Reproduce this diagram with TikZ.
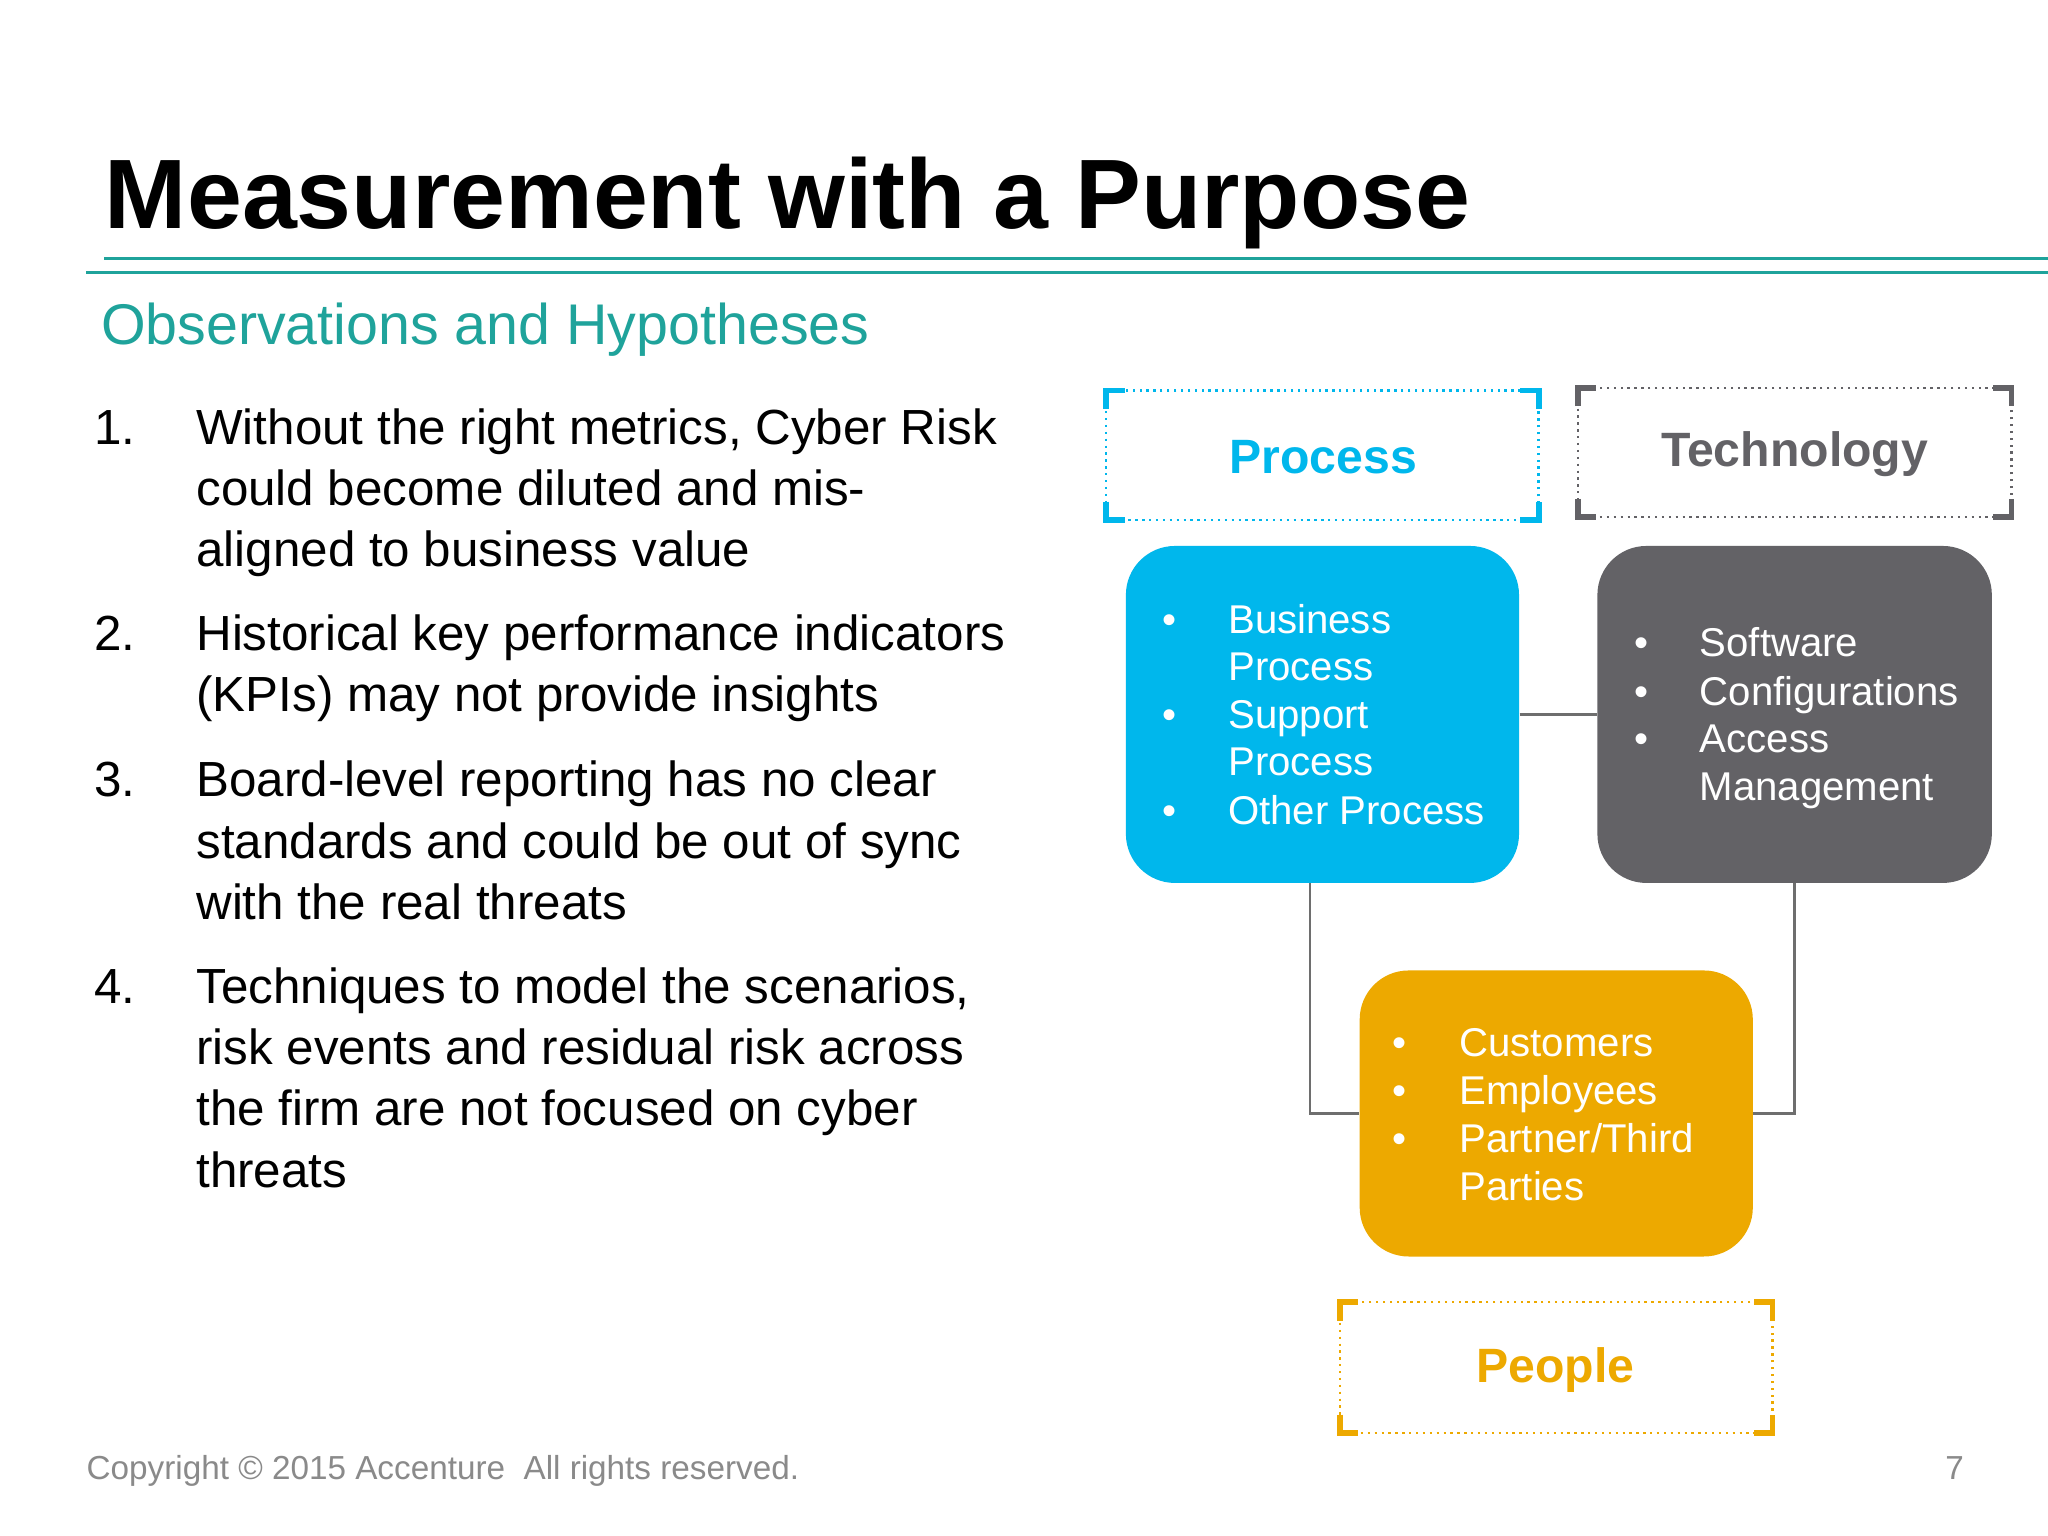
\documentclass[tikz,border=0pt]{standalone}
\usepackage{fontspec}
\setmainfont{Liberation Sans}
\definecolor{teal1}{HTML}{1FA39B}
\definecolor{cyan1}{HTML}{00B7EC}
\definecolor{grey1}{HTML}{636266}
\definecolor{orange1}{HTML}{EDA900}
\definecolor{lineg}{HTML}{6E6E6E}
\definecolor{copyg}{HTML}{8A8A8A}
\begin{document}
\begin{tikzpicture}[x=0.02cm,y=-0.02cm,
  bodytxt/.style={anchor=base west,inner sep=0,font=\fontsize{21.5}{26}\selectfont},
  boxtxt/.style={anchor=base west,inner sep=0,text=white,font=\fontsize{17.5}{21}\selectfont},
  rbox/.style={rounded corners=0.75cm,draw=none},
  framelbl/.style={font=\bfseries\fontsize{21}{25}\selectfont},
  conn/.style={draw=lineg,line width=1.2pt}]
\useasboundingbox (0,0) rectangle (1568,1176);
\fill[white] (0,0) rectangle (1568,1176);
% title
\node[anchor=base west,inner sep=0,font=\bfseries\fontsize{43}{50}\selectfont] (title) at (80,175) {Measurement with a Purpose};
\draw[teal1,line width=1.3pt] (80,198) -- (1568,198);
\draw[teal1,line width=1.3pt] (66,209) -- (1568,209);
\node[anchor=base west,inner sep=0,text=teal1,font=\fontsize{25}{30}\selectfont] (sub) at (77,264) {Observations and Hypotheses};
% list
\foreach \n/\y in {1./340,2./498,3./610,4./768}
  \node[bodytxt] at (72,\y) {\n};
\foreach \t/\y in {{Without the right metrics, Cyber Risk}/340,{could become diluted and mis-}/387,{aligned to business value}/434,
  {Historical key performance indicators}/498,{(KPIs) may not provide insights}/545,
  {Board-level reporting has no clear}/610,{standards and could be out of sync}/657,{with the real threats}/704,
  {Techniques to model the scenarios,}/768,{risk events and residual risk across}/815,{the firm are not focused on cyber}/862,{threats}/909}
  \node[bodytxt] at (150,\y) {\t};
% frames
\foreach \nm/\xa/\ya/\xb/\yb/\c in {fp/847/299/1178/398/cyan1, ft/1208/297/1540/396/grey1, fpe/1026/997/1357/1097/orange1}{
  \draw[\c,dotted,line width=1pt] (\xa,\ya) rectangle (\xb,\yb);
  \draw[\c,line width=2.5pt] (\xa,\ya+14) -- (\xa,\ya) -- (\xa+14,\ya);
  \draw[\c,line width=2.5pt] (\xb-14,\ya) -- (\xb,\ya) -- (\xb,\ya+14);
  \draw[\c,line width=2.5pt] (\xa,\yb-14) -- (\xa,\yb) -- (\xa+14,\yb);
  \draw[\c,line width=2.5pt] (\xb-14,\yb) -- (\xb,\yb) -- (\xb,\yb-14);
}
\node[framelbl,text=cyan1] (lp) at (1013,350) {Process};
\node[framelbl,text=grey1] (lt) at (1374,348) {Technology};
\node[framelbl,text=orange1] (lpe) at (1191,1049) {People};
% boxes
\node[rbox,fill=cyan1,minimum width=301*0.02cm,minimum height=258*0.02cm] (bp) at (1012.5,547) {};
\node[rbox,fill=grey1,minimum width=302*0.02cm,minimum height=258*0.02cm] (bt) at (1374,547) {};
\node[rbox,fill=orange1,minimum width=301*0.02cm,minimum height=219*0.02cm] (bpe) at (1191.5,852.5) {};
% connectors
\draw[conn] (bp.east) -- (bt.west);
\draw[conn] (bp.south -| 1003,0) |- (bpe.west);
\draw[conn] (bt.south) |- (bpe.east);
% box texts
\foreach \t/\y in {Business/485,Process/521,Support/558,Process/594,{Other Process}/631}
  \node[boxtxt] at (940,\y) {\t};
\foreach \y in {485,558,631} \node[boxtxt] at (890,\y) {•};
\foreach \t/\y in {Software/503,Configurations/540,Access/576,Management/613}
  \node[boxtxt] at (1301,\y) {\t};
\foreach \y in {503,540,576} \node[boxtxt] at (1251,\y) {•};
\foreach \t/\y in {Customers/809,Employees/846,{Partner/Third}/882,Parties/919}
  \node[boxtxt] at (1117,\y) {\t};
\foreach \y in {809,846,882} \node[boxtxt] at (1066,\y) {•};
% footer
\node[anchor=base west,inner sep=0,text=copyg,font=\fontsize{14.5}{17}\selectfont] (copy) at (66,1133) {Copyright © 2015 Accenture\ \ All rights reserved.};
\node[anchor=base west,inner sep=0,text=copyg,font=\fontsize{14.5}{17}\selectfont] (pg) at (1489,1133) {7};
\end{tikzpicture}
\end{document}
